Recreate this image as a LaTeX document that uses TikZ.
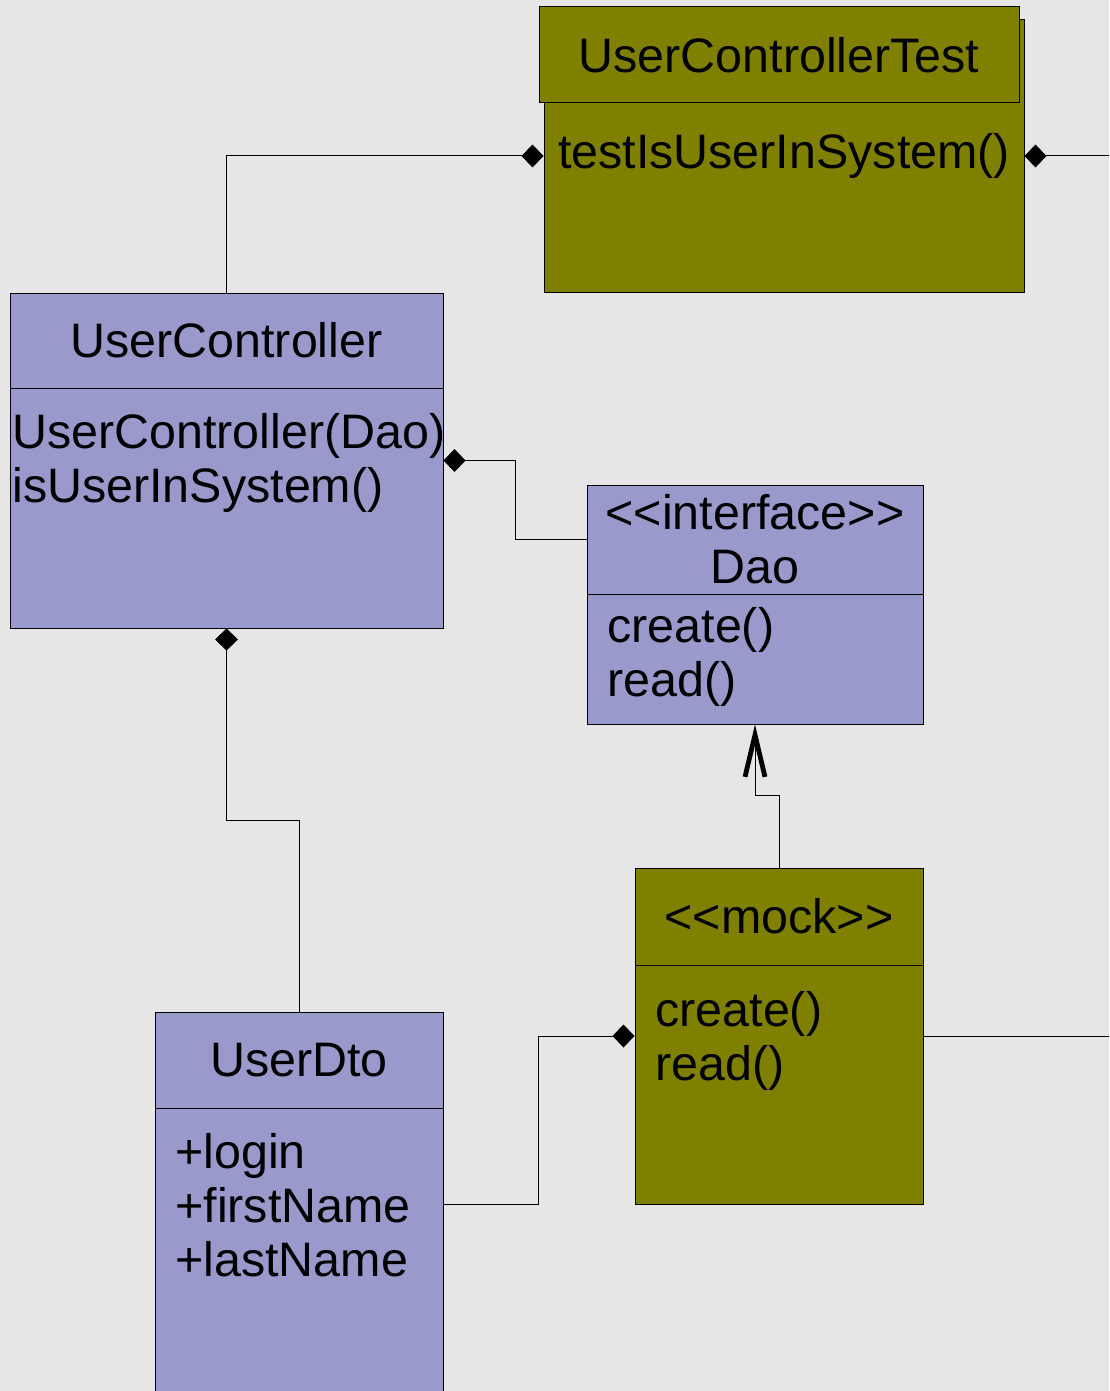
\documentclass[tikz,border=0pt]{standalone}
\usepackage{fontspec}
\setmainfont{Liberation Sans}
\usetikzlibrary{arrows.meta}
\definecolor{umlBlue}{RGB}{153,153,204}
\definecolor{umlOlive}{RGB}{128,128,0}
\definecolor{paper}{RGB}{230,230,230}
\tikzset{ClassStyle/.style = {draw, line width=0.5pt, inner sep=0pt},
  BlueClass/.style = {ClassStyle, fill=umlBlue},
  OliveClass/.style = {ClassStyle, fill=umlOlive},
  Ops/.style = {anchor=north west, inner sep=0pt, align=left},
  EdgeStyle/.style = {line width=0.5pt},
  Compose/.style = {EdgeStyle, {Diamond[length=11pt,width=11.5pt]}-},
  Realize/.style = {EdgeStyle, -{Straight Barb[length=21pt,width=10pt,line width=2.4pt]}}}
\begin{document}
\begin{tikzpicture}[x=0.5pt,y=-0.5pt,every node/.append style={font=\fontsize{24.2pt}{27pt}\selectfont}]
\fill[paper] (0,0) rectangle (1109,1391);
\useasboundingbox (0,0) rectangle (1109,1391);
\node[OliveClass, minimum width=240pt, minimum height=136pt] (ucTest) at (784,156) {testIsUserInSystem()};
\node[OliveClass, minimum width=240pt, minimum height=48pt] (ucTestHead) at (779,55) {UserControllerTest};
\node[BlueClass, minimum width=216.5pt, minimum height=167.5pt] (uc) at (226.5,460.5) {};
\node[BlueClass, minimum width=216.5pt, minimum height=47.5pt] (ucHead) at (226.5,340.5) {UserController};
\node[Ops] (ucOps) at (12,413) {UserController(Dao)\\isUserInSystem()};
\node[BlueClass, minimum width=168pt, minimum height=119.5pt] (dao) at (755,604.5) {};
\node[BlueClass, minimum width=168pt, minimum height=54.5pt, align=center] (daoHead) at (755,539.5) {<\kern0pt<interface>\kern0pt>\\Dao};
\node[Ops] (daoOps) at (607,607) {create()\\read()};
\node[OliveClass, minimum width=144pt, minimum height=168pt] (mock) at (779,1036) {};
\node[OliveClass, minimum width=144pt, minimum height=48.5pt] (mockHead) at (779,916.5) {<\kern0pt<mock>\kern0pt>};
\node[Ops] (mockOps) at (655,991) {create()\\read()};
\node[BlueClass, minimum width=144pt, minimum height=194pt] (dto) at (299,1206) {};
\node[BlueClass, minimum width=144pt, minimum height=48pt] (dtoHead) at (299,1060) {UserDto};
\node[Ops] (dtoOps) at (175,1133) {+login\\+firstName\\+lastName};
\coordinate (testOut) at (1109,156);
\coordinate (mockOut) at (1109,1036);
\draw[Compose] (ucTest.west) -| (uc.north);
\draw[Compose] (ucTest.east) -- (testOut);
\draw[Compose] (uc.east) -- ++(72,0) |- (daoHead.west);
\draw[Compose] (uc.south) -- ++(0,192) -| (dto.north);
\draw[Compose] (mock.west) -- ++(-96,0) |- (mock.south -| dto.east);
\draw[EdgeStyle] (mock.east) -- (mockOut);
\draw[Realize] (mock.north) -- ++(0,-72) -| (dao.south);
\end{tikzpicture}
\end{document}
